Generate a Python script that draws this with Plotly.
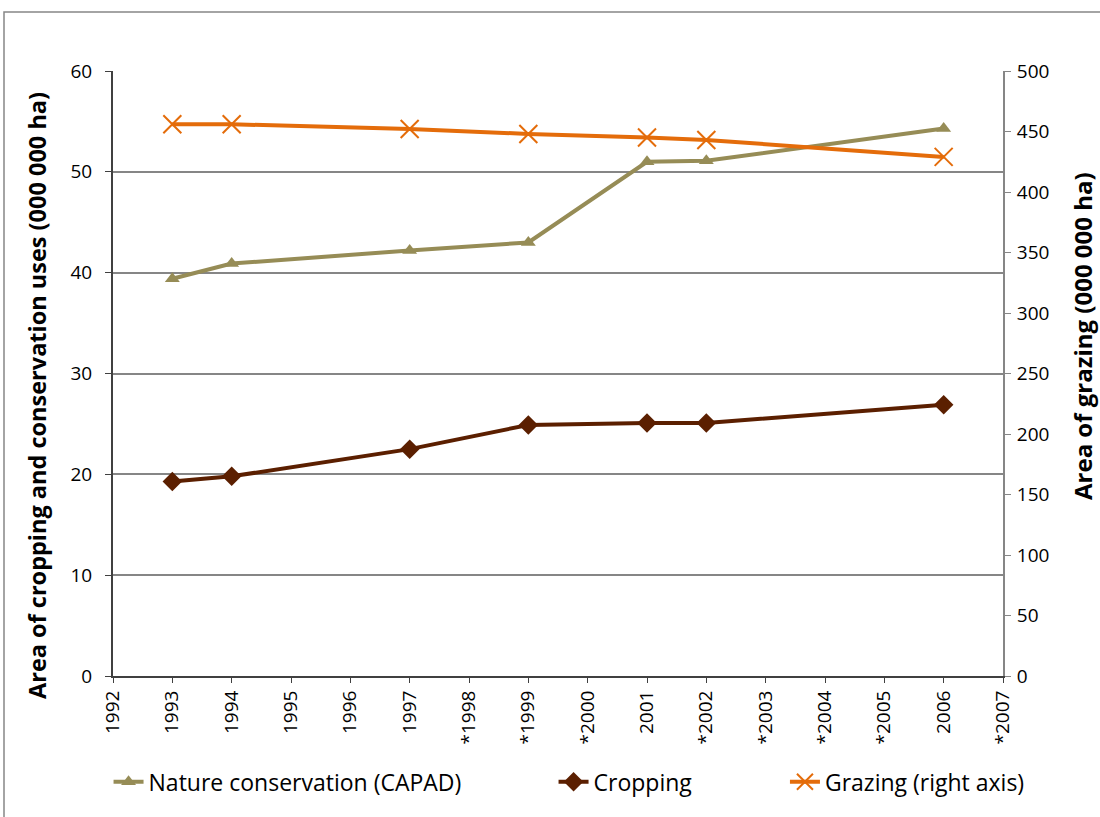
import plotly.graph_objects as go

# Survey years and land-use areas
years = [1993, 1994, 1997, 1999, 2001, 2002, 2006]
nature_conservation = [39.4, 40.9, 42.2, 43.0, 51.0, 51.1, 54.3]   # 000 000 ha
cropping = [19.3, 19.8, 22.5, 24.9, 25.1, 25.1, 26.9]              # 000 000 ha
grazing = [456, 456, 452, 448, 445, 443, 429]                      # 000 000 ha

# Axis tick labels (asterisk marks years with no survey)
tick_years = list(range(1992, 2008))
tick_labels = ["1992", "1993", "1994", "1995", "1996", "1997", "*1998", "*1999",
               "*2000", "2001", "*2002", "*2003", "*2004", "*2005", "2006", "*2007"]

FONT = "Open Sans, sans-serif"
OLIVE = "#968C56"
BROWN = "#5B1F00"
ORANGE = "#E46C0A"
GRID = "#868686"

# Plot-area geometry in pixels (used for frame and axis-title placement)
W, H = 1100, 817
L, R, T, B = 113, 97, 71, 141
PW, PH = W - L - R, H - T - B


def px_to_paper(px, py):
    return (px - L) / PW, (H - B - py) / PH


fig = go.Figure()

fig.add_trace(go.Scatter(
    x=years, y=nature_conservation, name="Nature conservation (CAPAD)",
    mode="lines+markers", line=dict(color=OLIVE, width=4),
    marker=dict(symbol="triangle-up", size=13, color=OLIVE),
    legend="legend",
))
fig.add_trace(go.Scatter(
    x=years, y=cropping, name="Cropping",
    mode="lines+markers", line=dict(color=BROWN, width=4),
    marker=dict(symbol="diamond", size=15, color=BROWN),
    legend="legend2",
))
fig.add_trace(go.Scatter(
    x=years, y=grazing, name="Grazing (right axis)", yaxis="y2",
    mode="lines+markers", line=dict(color=ORANGE, width=4),
    marker=dict(symbol="x-thin-open", size=18, color=ORANGE,
                line=dict(color=ORANGE, width=2)),
    legend="legend3",
))

legend_common = dict(orientation="h", yanchor="middle", xanchor="left",
                     font=dict(family=FONT, size=23, color="#000000"),
                     bgcolor="rgba(0,0,0,0)", itemwidth=30)

fig.update_layout(
    width=W, height=H,
    margin=dict(l=L, r=R, t=T, b=B),
    paper_bgcolor="white", plot_bgcolor="white",
    font=dict(family=FONT, color="#000000"),
    showlegend=True,
    legend=dict(x=-0.005, y=-0.175, **legend_common),
    legend2=dict(x=0.495, y=-0.175, **legend_common),
    legend3=dict(x=0.755, y=-0.175, **legend_common),
    xaxis=dict(
        range=[1992, 2007], tickmode="array", tickvals=tick_years,
        ticktext=tick_labels, tickangle=-90, showgrid=False,
        showline=True, linecolor="#404040", linewidth=2,
        ticks="outside", ticklen=5, tickcolor="#404040",
        tickfont=dict(family=FONT, size=19, color="#000000"),
        zeroline=False,
    ),
    yaxis=dict(
        range=[0, 60], dtick=10, showgrid=True, gridcolor=GRID, gridwidth=1.5,
        showline=True, linecolor="#404040", linewidth=2,
        ticks="outside", ticklen=6, tickcolor="#404040",
        ticklabelstandoff=9,
        tickfont=dict(family=FONT, size=19, color="#000000"),
        zeroline=False,
    ),
    yaxis2=dict(
        range=[0, 500], dtick=50, overlaying="y", side="right", showgrid=False,
        showline=True, linecolor=GRID, linewidth=2,
        ticks="outside", ticklen=6, tickcolor=GRID,
        ticklabelstandoff=2,
        tickfont=dict(family=FONT, size=19, color="#000000"),
        zeroline=False,
    ),
)

# Axis titles
lx, ly = px_to_paper(37, 396)
rx, ry = px_to_paper(1082, 336)
fig.add_annotation(text="<b>Area of cropping and conservation uses (000 000 ha)</b>",
                   xref="paper", yref="paper", x=lx, y=ly, textangle=-90,
                   showarrow=False, xanchor="center", yanchor="middle",
                   font=dict(family=FONT, size=23.5, color="#000000"))
fig.add_annotation(text="<b>Area of grazing (000 000 ha)</b>",
                   xref="paper", yref="paper", x=rx, y=ry, textangle=-90,
                   showarrow=False, xanchor="center", yanchor="middle",
                   font=dict(family=FONT, size=24, color="#000000"))

# Chart frame
fx0, fy0 = px_to_paper(4, 822)
fx1, fy1 = px_to_paper(1104, 12)
fig.add_shape(type="rect", xref="paper", yref="paper",
              x0=fx0, x1=fx1, y0=fy0, y1=fy1,
              line=dict(color=GRID, width=1.5), fillcolor="rgba(0,0,0,0)", layer="below")

fig.write_html("out.html")
